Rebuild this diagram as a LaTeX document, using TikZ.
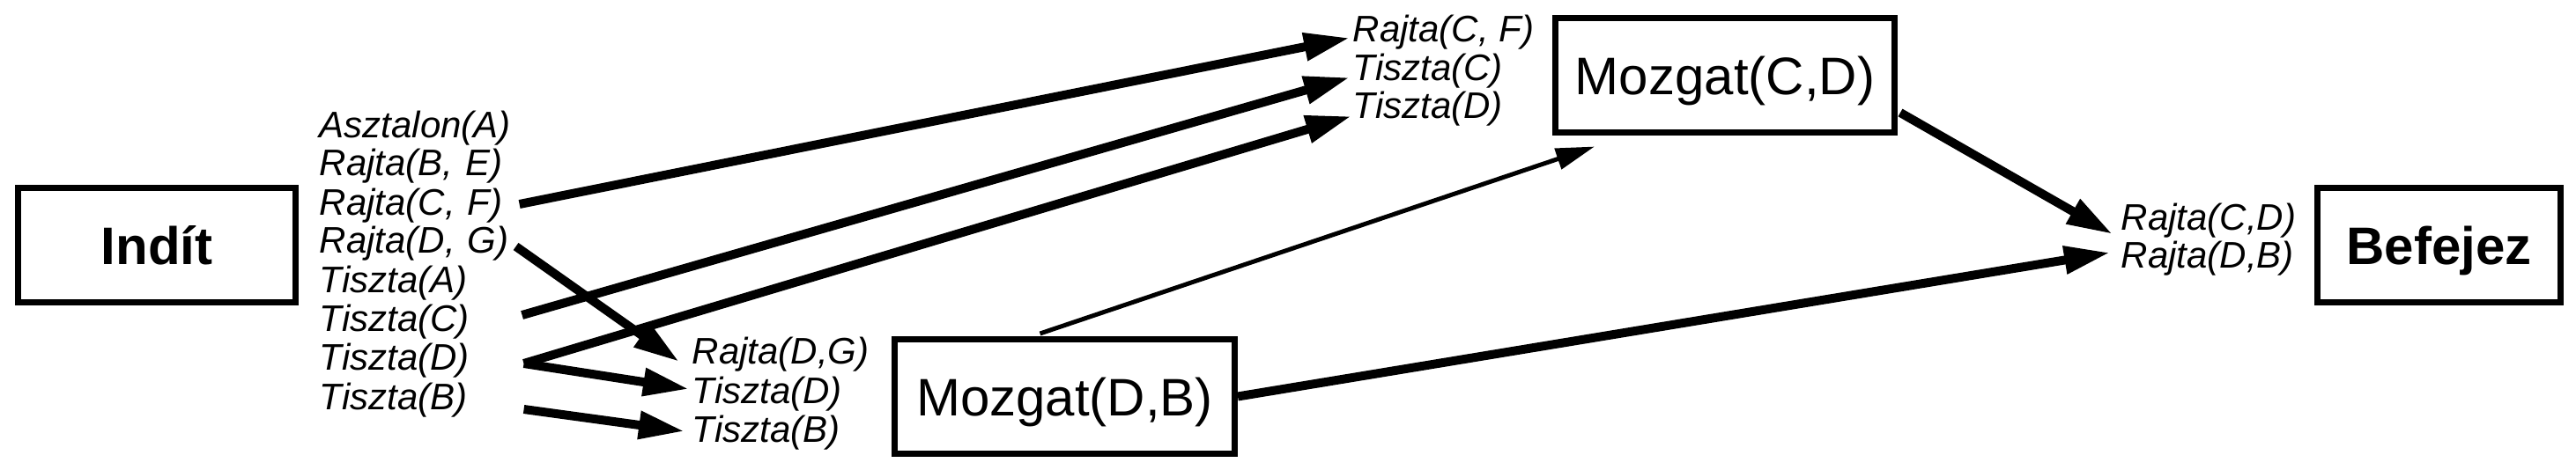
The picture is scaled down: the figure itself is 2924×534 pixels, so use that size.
\documentclass[tikz,border=0pt]{standalone}
\usepackage{fontspec}
\setmainfont{Liberation Sans}
\usetikzlibrary{arrows.meta, positioning, calc}

\begin{document}
\begin{tikzpicture}[
      x=0.25pt, y=-0.25pt,
      box/.style={draw, rectangle, line width=1.75pt, inner sep=0pt, minimum height=32.5pt, text height=11pt, text depth=0pt, font=\fontsize{15}{18}\selectfont},
      boldbox/.style={box, font=\fontsize{15}{18}\selectfont\bfseries},
      fact/.style={anchor=base west, inner sep=0pt, font=\fontsize{10.5}{11}\selectfont\itshape},
      startfact/.style={fact, text width=54pt},
      link/.style={line width=2.5pt, -{Triangle[length=13pt, width=7.5pt]}},
      thinlink/.style={line width=1.25pt, -{Triangle[length=11pt, width=6pt]}}
    ]
    \useasboundingbox (0,0) rectangle (2924,534);

    % Boxes
    \node[boldbox, minimum width=78.75pt] (indit) at (178,278.5) {Indít};
    \node[box, minimum width=96.25pt] (mozgatCD) at (1958,86) {Mozgat(C,D)};
    \node[box, minimum width=96.5pt] (mozgatDB) at (1208.5,450.5) {Mozgat(D,B)};
    \node[boldbox, minimum width=69pt] (befejez) at (2768.5,278.5) {Befejez};

    % Facts after the start
    \node[startfact] (asztalonA) at (362,157) {Asztalon(A)};
    \node[startfact] (rajtaBE) at (362,200) {Rajta(B, E)};
    \node[startfact] (rajtaCF) at (362,245) {Rajta(C, F)};
    \node[startfact] (rajtaDG) at (362,288) {Rajta(D, G)};
    \node[startfact] (tisztaA) at (362,333) {Tiszta(A)};
    \node[startfact] (tisztaC) at (362,377) {Tiszta(C)};
    \node[startfact] (tisztaD) at (362,420) {Tiszta(D)};
    \node[startfact] (tisztaB) at (362,465) {Tiszta(B)};

    % Preconditions of Mozgat(C,D)
    \node[fact] (cdRajtaCF) at (1535,48) {Rajta(C, F)};
    \node[fact] (cdTisztaC) at (1535,92) {Tiszta(C)};
    \node[fact] (cdTisztaD) at (1535,135) {Tiszta(D)};

    % Preconditions of Mozgat(D,B)
    \node[fact] (dbRajtaDG) at (785,413) {Rajta(D,G)};
    \node[fact] (dbTisztaD) at (785,458) {Tiszta(D)};
    \node[fact] (dbTisztaB) at (785,502) {Tiszta(B)};

    % Goal
    \node[fact] (endRajtaCD) at (2407,262) {Rajta(C,D)};
    \node[fact] (endRajtaDB) at (2407,305) {Rajta(D,B)};

    % Arrows
    \draw[link] ([shift={(10,-13)}]rajtaCF.base east) -- ([shift={(-3,-5)}]cdRajtaCF.base west);
    \draw[link] ([shift={(13,-19)}]tisztaC.base east) -- ([shift={(-3,-4)}]cdTisztaC.base west);
    \draw[link] ([shift={(15,-7)}]tisztaD.base east) -- ([shift={(-1,-3)}]cdTisztaD.base west);
    \draw[link] ([shift={(6,-8)}]rajtaDG.base east) -- ([shift={(-14,-2)}]dbRajtaDG.base west);
    \draw[link] ([shift={(15,-7)}]tisztaD.base east) -- ([shift={(-3,-16)}]dbTisztaD.base west);
    \draw[link] ([shift={(15,0)}]tisztaB.base east) -- ([shift={(-8,-12)}]dbTisztaB.base west);
    \draw[thinlink] ([shift={(-28,-3)}]mozgatDB.north) -- ([shift={(-148,12)}]mozgatCD.south);
    \draw[link] ([shift={(3,42)}]mozgatCD.east) -- ([shift={(-9,4)}]endRajtaCD.base west);
    \draw[link] (mozgatDB.east) -- ([shift={(-12,-18)}]endRajtaDB.base west);
\end{tikzpicture}
\end{document}
